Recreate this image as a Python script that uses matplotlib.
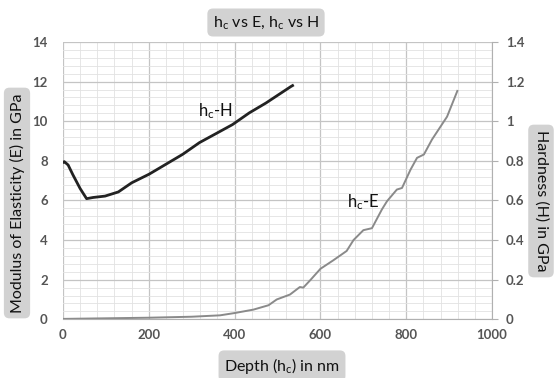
import matplotlib.pyplot as plt
import numpy as np
from matplotlib.ticker import MultipleLocator

plt.rcParams['font.family'] = ['Lato', 'DejaVu Sans']
plt.rcParams['mathtext.default'] = 'regular'

# hc-E curve (left axis, GPa)
depth_e = [0, 100, 200, 300, 366, 401, 444, 479, 498, 529, 552, 560, 576, 600,
           630, 661, 677, 700, 720, 743, 755, 778, 790, 810, 825, 841, 860,
           888, 895, 919]
modulus_e = [0.02, 0.05, 0.08, 0.13, 0.2, 0.32, 0.49, 0.71, 1.0, 1.25, 1.63,
             1.6, 1.97, 2.55, 2.98, 3.45, 4.0, 4.5, 4.6, 5.54, 5.96, 6.55,
             6.63, 7.56, 8.15, 8.32, 9.08, 10.0, 10.23, 11.53]

# hc-H curve (right axis, GPa)
depth_h = [0, 3, 12, 23, 40, 55, 70, 98, 129, 160, 201, 240, 279, 318, 357,
           395, 434, 473, 531, 535]
hardness_h = [0.792, 0.796, 0.779, 0.73, 0.66, 0.609, 0.615, 0.622, 0.643,
              0.689, 0.733, 0.783, 0.833, 0.892, 0.938, 0.983, 1.042, 1.092,
              1.175, 1.18]

fig = plt.figure(figsize=(5.54, 3.78), dpi=100)
ax = fig.add_axes([0.1137, 0.1553, 0.7746, 0.7336])
ax2 = ax.twinx()

ax.set_xlim(0, 1000)
ax.set_ylim(0, 14)
ax2.set_ylim(0, 1.4)

ax.xaxis.set_major_locator(MultipleLocator(200))
ax.xaxis.set_minor_locator(MultipleLocator(40))
ax.yaxis.set_major_locator(MultipleLocator(2))
ax.yaxis.set_minor_locator(MultipleLocator(0.4))
ax2.yaxis.set_major_locator(MultipleLocator(0.2))
ax2.yaxis.set_major_formatter(plt.FuncFormatter(lambda v, p: ('%.1f' % v).rstrip('0').rstrip('.') if v else '0'))

ax.grid(which='major', color='#c4c4c4', lw=0.9)
ax.grid(which='minor', color='#e2e2e2', lw=0.6)
ax.set_axisbelow(True)

for a in (ax, ax2):
    for s in a.spines.values():
        s.set_visible(False)
ax.spines['bottom'].set_visible(True)
ax.spines['bottom'].set_color('#b0b0b0')
ax2.spines['right'].set_visible(True)
ax2.spines['right'].set_color('#b0b0b0')

tick_kw = dict(labelsize=9.5, labelcolor='#555555')
ax.tick_params(axis='both', which='both', length=0, **tick_kw)
ax.tick_params(axis='y', pad=11)
ax.tick_params(axis='x', pad=7)
ax2.tick_params(axis='y', which='major', length=4, color='#b0b0b0', pad=6, **tick_kw)
for lbl in ax.get_xticklabels() + ax.get_yticklabels() + ax2.get_yticklabels():
    lbl.set_fontweight('bold')

ax.plot(depth_e, modulus_e, color='#8a8a8a', lw=1.4)
ax2.plot(depth_h, hardness_h, color='#222222', lw=2.0)

ax.text(354, 10.5, 'h$_c$-H', fontsize=12, color='#111111', ha='center', va='center')
ax.text(699, 5.9, 'h$_c$-E', fontsize=12, color='#111111', ha='center', va='center')

box = dict(boxstyle='round,pad=0.35', fc='#d2d2d2', ec='none')
fig.text(266 / 554, 1 - 22.5 / 378, 'h$_c$ vs E, h$_c$ vs H', fontsize=11.5,
         ha='center', va='center', bbox=box, color='#111111')
fig.text(282 / 554, 1 - 366 / 378, 'Depth (h$_c$) in nm', fontsize=11.5,
         ha='center', va='center', bbox=box, color='#111111')
fig.text(17 / 554, 1 - 203 / 378, 'Modulus of Elasticity (E) in GPa', fontsize=11.5,
         ha='center', va='center', rotation=90, bbox=box, color='#111111')
fig.text(541 / 554, 1 - 201 / 378, 'Hardness (H) in GPa', fontsize=11.5,
         ha='center', va='center', rotation=270, bbox=box, color='#111111')

fig.savefig('out.png', dpi=100)
